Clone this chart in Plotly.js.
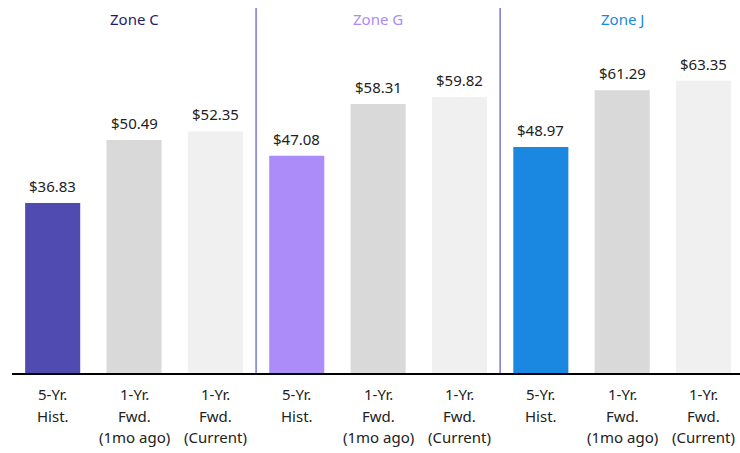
<!DOCTYPE html>
<html>
<head>
<meta charset="utf-8">
<script src="https://cdn.plot.ly/plotly-3.0.1.min.js"></script>
<style>html,body{margin:0;padding:0;background:#fff;}#chart{width:740px;height:453px;}</style>
</head>
<body>
<div id="chart"></div>
<script>
const zones = ["Zone C", "Zone G", "Zone J"];
const zoneColors = ["#1f1b6e", "#ab8bf7", "#1a88e0"];
const periods = ["5-Yr.<br>Hist.", "1-Yr.<br>Fwd.<br>(1mo ago)", "1-Yr.<br>Fwd.<br>(Current)"];
const zoneC = [36.83, 50.49, 52.35];
const zoneG = [47.08, 58.31, 59.82];
const zoneJ = [48.97, 61.29, 63.35];
const histColors = ["#4f4bb1", "#ac8cf8", "#1a88e0"];
const fwdAgoColor = "#d9d9d9";
const fwdCurColor = "#f0f0f0";

const seriesValues = [zoneC, zoneG, zoneJ];
const xCats = [], yVals = [], colors = [], texts = [], tickLines = [];
zones.forEach((z, zi) => {
  periods.forEach((p, pi) => {
    xCats.push(z + "|" + pi);
    tickLines.push(p.split("<br>"));
    yVals.push(seriesValues[zi][pi]);
    colors.push(pi === 0 ? histColors[zi] : (pi === 1 ? fwdAgoColor : fwdCurColor));
    texts.push("$" + seriesValues[zi][pi].toFixed(2));
  });
});

const font = "Noto Sans, Open Sans, sans-serif";
const trace = {
  type: "bar",
  x: xCats,
  y: yVals,
  marker: {color: colors},
  hoverinfo: "none"
};

const shapes = [2.5, 5.5].map(v => ({
  type: "line", xref: "x", yref: "paper", x0: v, x1: v, y0: 0, y1: 1,
  line: {color: "#7b77d6", width: 1.5}
}));

const annotations = [];
zones.forEach((z, zi) => annotations.push({
  x: xCats[zi * 3 + 1], xref: "x", y: 1, yref: "paper", yanchor: "middle", yshift: -11,
  text: z, showarrow: false,
  font: {family: font, size: 15, color: zoneColors[zi]}
}));
xCats.forEach((c, i) => {
  annotations.push({
    x: c, xref: "x", y: yVals[i], yref: "y", yanchor: "middle", yshift: 17,
    text: texts[i], showarrow: false,
    font: {family: font, size: 15, color: "#222"}
  });
  tickLines[i].forEach((line, li) => annotations.push({
    x: c, xref: "x", y: 0, yref: "paper", yanchor: "middle", yshift: -21 - li * 21.5,
    text: line, showarrow: false,
    font: {family: font, size: 15, color: "#222"}
  }));
});

const layout = {
  width: 740, height: 453,
  margin: {l: 12, r: 0, t: 8, b: 80},
  paper_bgcolor: "#fff", plot_bgcolor: "#fff",
  bargap: 0.323,
  showlegend: false,
  xaxis: {
    type: "category",
    range: [-0.5, 8.448],
    showticklabels: false,
    showline: true, linecolor: "#000", linewidth: 2,
    showgrid: false, zeroline: false, ticks: "",
    fixedrange: true
  },
  yaxis: {
    range: [0, 79.1],
    visible: false, showgrid: false, zeroline: false, fixedrange: true
  },
  shapes: shapes,
  annotations: annotations
};

Plotly.newPlot("chart", [trace], layout, {displayModeBar: false, staticPlot: true});
</script>
</body>
</html>
